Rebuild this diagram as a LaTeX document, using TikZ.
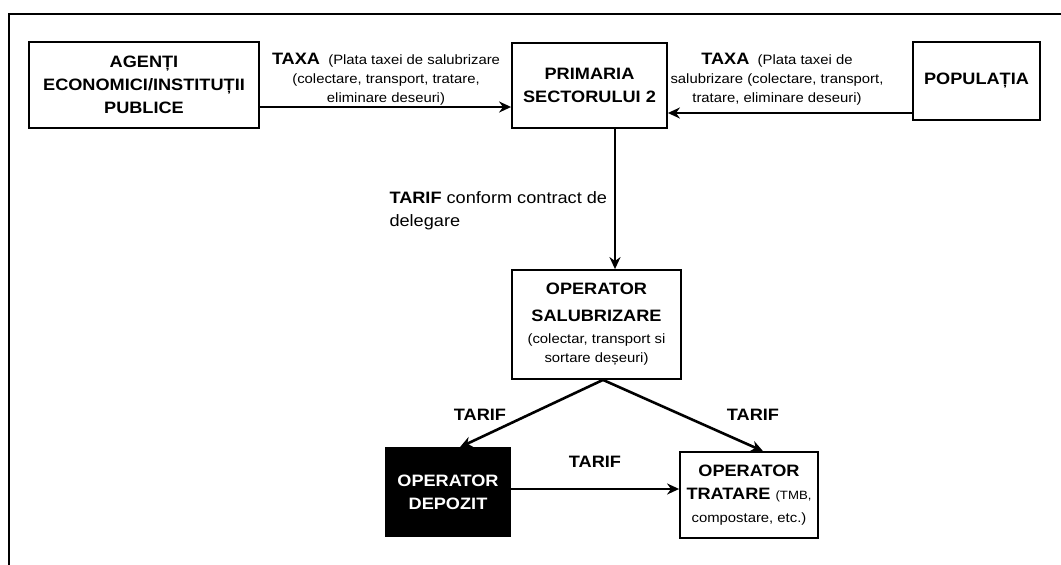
\documentclass[tikz,border=0pt]{standalone}
\usepackage{fontspec}
\setmainfont{Liberation Sans}[FakeStretch=1.1]
\usetikzlibrary{arrows.meta,calc}
\tikzset{
  box/.style={draw=black,line width=1.8pt,align=center,inner sep=2pt,font=\fontsize{16.5}{23}\selectfont\bfseries},
  darkbox/.style={box,fill=black,text=white},
  arr/.style={line width=2.6pt,-{Stealth[length=12pt,width=11pt]}},
  lbl/.style={align=center,font=\fontsize{13.5}{19}\selectfont},
  tlbl/.style={font=\fontsize{16.5}{21}\selectfont\bfseries}
}
\newcommand{\sm}{\fontsize{13.5}{17}\selectfont\mdseries}
\begin{document}
\begin{tikzpicture}[x=1pt,y=-1pt]
\useasboundingbox (0,0) rectangle (1061,565);
\fill[white] (0,0) rectangle (1061,565);
\draw[line width=1.6pt] (9,565) -- (9,14) -- (1061,14);

\node[box,minimum width=230pt,minimum height=86pt] (agenti) at (144,85)
  {AGENȚI\\ECONOMICI/INSTITUȚII\\PUBLICE};
\node[box,minimum width=155pt,minimum height=85pt] (primaria) at (589.5,85.5)
  {PRIMARIA\\SECTORULUI 2};
\node[box,minimum width=127pt,minimum height=78pt] (populatia) at (976.5,81)
  {POPULAȚIA};
\node[box,minimum width=169pt,minimum height=109pt] (opsal) at (596.5,324.5)
  {OPERATOR\\[4pt]SALUBRIZARE\\[-1pt]{\sm (colectar, transport si}\\[-4pt]{\sm sortare deșeuri)}};
\node[darkbox,minimum width=124pt,minimum height=88pt] (depozit) at (448,492)
  {OPERATOR\\DEPOZIT};
\node[box,minimum width=138pt,minimum height=86pt] (tratare) at (749,495)
  {OPERATOR\\TRATARE {\fontsize{12}{14}\selectfont\mdseries (TMB,}\\{\sm compostare, etc.)}};

\draw[arr] ([yshift=-22pt]agenti.east) -- ([yshift=-21.5pt]primaria.west);
\draw[arr] ([yshift=-32pt]populatia.west) -- ([yshift=-27.5pt]primaria.east);
\draw[arr] ([xshift=25.5pt]primaria.south) -- ([xshift=18.5pt]opsal.north);
\draw[arr] ([xshift=6.5pt]opsal.south) -- ([xshift=12pt]depozit.north);
\draw[arr] ([xshift=6.5pt]opsal.south) -- ([xshift=14pt]tratare.north);
\draw[arr] ([yshift=3pt]depozit.east) -- ([yshift=6pt]tratare.west);

\node[lbl] (taxa1) at (386,79)
  {{\fontsize{16.5}{19}\selectfont\bfseries TAXA}\ \ (Plata taxei de salubrizare\\(colectare, transport, tratare,\\eliminare deseuri)};
\node[lbl] (taxa2) at (777,79)
  {{\fontsize{16.5}{19}\selectfont\bfseries TAXA}\ \ (Plata taxei de\\salubrizare (colectare, transport,\\tratare, eliminare deseuri)};
\node[align=left,anchor=west,font=\fontsize{16.5}{23}\selectfont] (tarifc) at (386,211)
  {\textbf{TARIF} conform contract de\\delegare};
\node[tlbl] (tarif1) at (480,415) {TARIF};
\node[tlbl] (tarif2) at (753,415) {TARIF};
\node[tlbl] (tarif3) at (595,462) {TARIF};
\end{tikzpicture}
\end{document}
